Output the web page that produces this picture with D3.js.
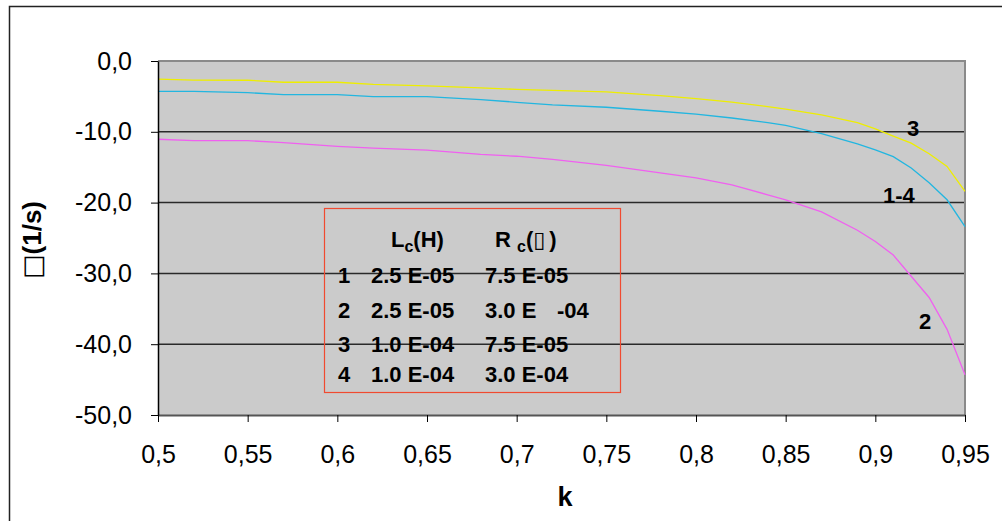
<!DOCTYPE html>
<html>
<head>
<meta charset="utf-8">
<script src="https://cdn.jsdelivr.net/npm/d3@7"></script>
<style>
  body { margin: 0; background: #fff; }
  text { font-family: "Liberation Sans", Arial, sans-serif; }
</style>
</head>
<body>
<div id="chart"></div>
<script>
// k values shared by all curves
var kValues = [0.5, 0.52, 0.55, 0.57, 0.6, 0.62, 0.65, 0.68, 0.7, 0.72, 0.75, 0.78,
               0.8, 0.82, 0.84, 0.85, 0.87, 0.89, 0.9, 0.91, 0.92, 0.93, 0.94, 0.95];

// curve "3" (yellow)
var curve3 = [-2.55, -2.7, -2.72, -3.0, -3.0, -3.3, -3.5, -3.8, -4.0, -4.15, -4.37, -4.9,
              -5.3, -5.8, -6.45, -6.8, -7.6, -8.7, -9.6, -10.6, -11.6, -13.1, -14.9, -18.4];
// curve "1-4" (cyan)
var curve14 = [-4.28, -4.28, -4.47, -4.76, -4.76, -5.04, -5.04, -5.45, -5.83, -6.2, -6.53, -7.1,
               -7.5, -8.05, -8.7, -9.1, -10.25, -11.7, -12.55, -13.5, -15.1, -17.2, -19.6, -23.4];
// curve "2" (magenta)
var curve2 = [-11.05, -11.25, -11.25, -11.53, -12.05, -12.3, -12.6, -13.2, -13.45, -13.9, -14.75, -15.8,
              -16.5, -17.5, -18.9, -19.6, -21.3, -23.9, -25.5, -27.4, -30.4, -33.4, -37.9, -44.3];

var xTicks = [0.5, 0.55, 0.6, 0.65, 0.7, 0.75, 0.8, 0.85, 0.9, 0.95];
var yTicks = [0, -10, -20, -30, -40, -50];

// legend table
var legendIds = ["1", "2", "3", "4"];
var legendL = ["2.5 E-05", "2.5 E-05", "1.0 E-04", "1.0 E-04"];
var legendR = ["7.5 E-05", "3.0 E|-04", "7.5 E-05", "3.0 E-04"];

var width = 1002;
var height = 521;
var plotL = 158, plotR = 965, plotT = 61, plotB = 415;

var x = d3.scaleLinear().domain([0.5, 0.95]).range([plotL, plotR]);
var y = d3.scaleLinear().domain([0, -50]).range([plotT, plotB]);

var svg = d3.select("#chart")
    .append("svg")
    .attr("width", width)
    .attr("height", height);

// outer chart border
svg.append("rect")
    .attr("x", 9.5).attr("y", 6.5)
    .attr("width", 1000).attr("height", 520)
    .attr("fill", "#fff")
    .attr("stroke", "#222")
    .attr("stroke-width", 1.5);

// plot area
svg.append("rect")
    .attr("x", plotL).attr("y", plotT)
    .attr("width", plotR - plotL).attr("height", plotB - plotT)
    .attr("fill", "#cbcbcb");

// grid lines
svg.selectAll("line.grid")
    .data([-10, -20, -30, -40])
    .enter()
    .append("line")
    .attr("class", "grid")
    .attr("x1", plotL).attr("x2", plotR)
    .attr("y1", function(d) { return y(d); })
    .attr("y2", function(d) { return y(d); })
    .attr("stroke", "#2a2a2a")
    .attr("stroke-width", 1.5);

// top and right frame (gray)
svg.append("path")
    .attr("d", "M" + plotL + "," + plotT + "H" + plotR + "V" + plotB)
    .attr("fill", "none")
    .attr("stroke", "#8a8a8a")
    .attr("stroke-width", 2);

// curves
var line = d3.line()
    .x(function(d) { return x(d[0]); })
    .y(function(d) { return y(d[1]); });

var series = [
    { values: curve3, color: "#eeee00" },
    { values: curve14, color: "#22b6e0" },
    { values: curve2, color: "#f060f0" }
];

series.forEach(function(s) {
    var pts = kValues.map(function(k, i) { return [k, s.values[i]]; });
    svg.append("path")
        .datum(pts)
        .attr("d", line)
        .attr("fill", "none")
        .attr("stroke", s.color)
        .attr("stroke-width", 1.3);
});

// axes
var bottomAxis = d3.axisBottom(x)
    .tickValues(xTicks)
    .tickSize(7)
    .tickPadding(23)
    .tickSizeOuter(0)
    .tickFormat(function(d) { return String(+d.toFixed(2)).replace(".", ","); });

var leftAxis = d3.axisLeft(y)
    .tickValues(yTicks)
    .tickSize(7)
    .tickPadding(19)
    .tickSizeOuter(0)
    .tickFormat(function(d) { return d.toFixed(1).replace(".", ",").replace("−", "-"); });

var gx = svg.append("g")
    .attr("transform", "translate(0," + plotB + ")")
    .call(bottomAxis);
gx.select(".domain").attr("stroke", "#555").attr("stroke-width", 2);
gx.selectAll(".tick line").attr("stroke", "#000");
gx.selectAll("text")
    .attr("font-family", "Liberation Sans, Arial, sans-serif")
    .attr("font-size", 25)
    .attr("fill", "#000");

var gy = svg.append("g")
    .attr("transform", "translate(" + plotL + ",0)")
    .call(leftAxis);
gy.select(".domain").attr("stroke", "#000").attr("stroke-width", 1.5);
gy.selectAll(".tick line").attr("stroke", "#000");
gy.selectAll("text")
    .attr("font-family", "Liberation Sans, Arial, sans-serif")
    .attr("font-size", 25)
    .attr("fill", "#000");

// axis titles
svg.append("text")
    .attr("x", 565).attr("y", 506)
    .attr("text-anchor", "middle")
    .attr("font-size", 27)
    .attr("font-weight", "bold")
    .text("k");

var yt = svg.append("text")
    .attr("transform", "translate(41,240) rotate(-90)")
    .attr("text-anchor", "middle")
    .attr("font-size", 26)
    .attr("font-weight", "bold");
yt.append("tspan").attr("font-family", "DejaVu Sans").attr("font-weight", "normal").text("□");
yt.append("tspan").text("(1/s)");

// curve labels
var curveLabels = [
    { text: "3", x: 907, y: 136 },
    { text: "1-4", x: 883, y: 203 },
    { text: "2", x: 919, y: 329 }
];
svg.selectAll("text.clabel")
    .data(curveLabels)
    .enter()
    .append("text")
    .attr("class", "clabel")
    .attr("x", function(d) { return d.x; })
    .attr("y", function(d) { return d.y; })
    .attr("font-size", 22)
    .attr("font-weight", "bold")
    .text(function(d) { return d.text; });

// legend box
var lg = svg.append("g").attr("font-size", 22).attr("font-weight", "bold");
lg.append("rect")
    .attr("x", 324.5).attr("y", 208.5)
    .attr("width", 296).attr("height", 184)
    .attr("fill", "none")
    .attr("stroke", "#f04a30")
    .attr("stroke-width", 1.2);

var h1 = lg.append("text").attr("x", 391).attr("y", 247);
h1.append("tspan").text("L");
h1.append("tspan").attr("font-size", 16).attr("dy", 5).text("c");
h1.append("tspan").attr("dy", -5).text("(H)");

var h2 = lg.append("text").attr("x", 495).attr("y", 247);
h2.append("tspan").text("R ");
h2.append("tspan").attr("font-size", 16).attr("dy", 5).text("c");
h2.append("tspan").attr("dy", -5).text("(");
h2.append("tspan").attr("font-family", "DejaVu Sans").attr("font-weight", "normal").text("▯");
h2.append("tspan").attr("dx", 4).text(")");

var rowY = [283, 318, 352, 382];
legendIds.forEach(function(id, i) {
    lg.append("text").attr("x", 338).attr("y", rowY[i]).text(id);
    lg.append("text").attr("x", 371).attr("y", rowY[i]).text(legendL[i]);
    var parts = legendR[i].split("|");
    lg.append("text").attr("x", 485).attr("y", rowY[i]).text(parts[0]);
    if (parts.length > 1) {
        lg.append("text").attr("x", 557).attr("y", rowY[i]).text(parts[1]);
    }
});
</script>
</body>
</html>
